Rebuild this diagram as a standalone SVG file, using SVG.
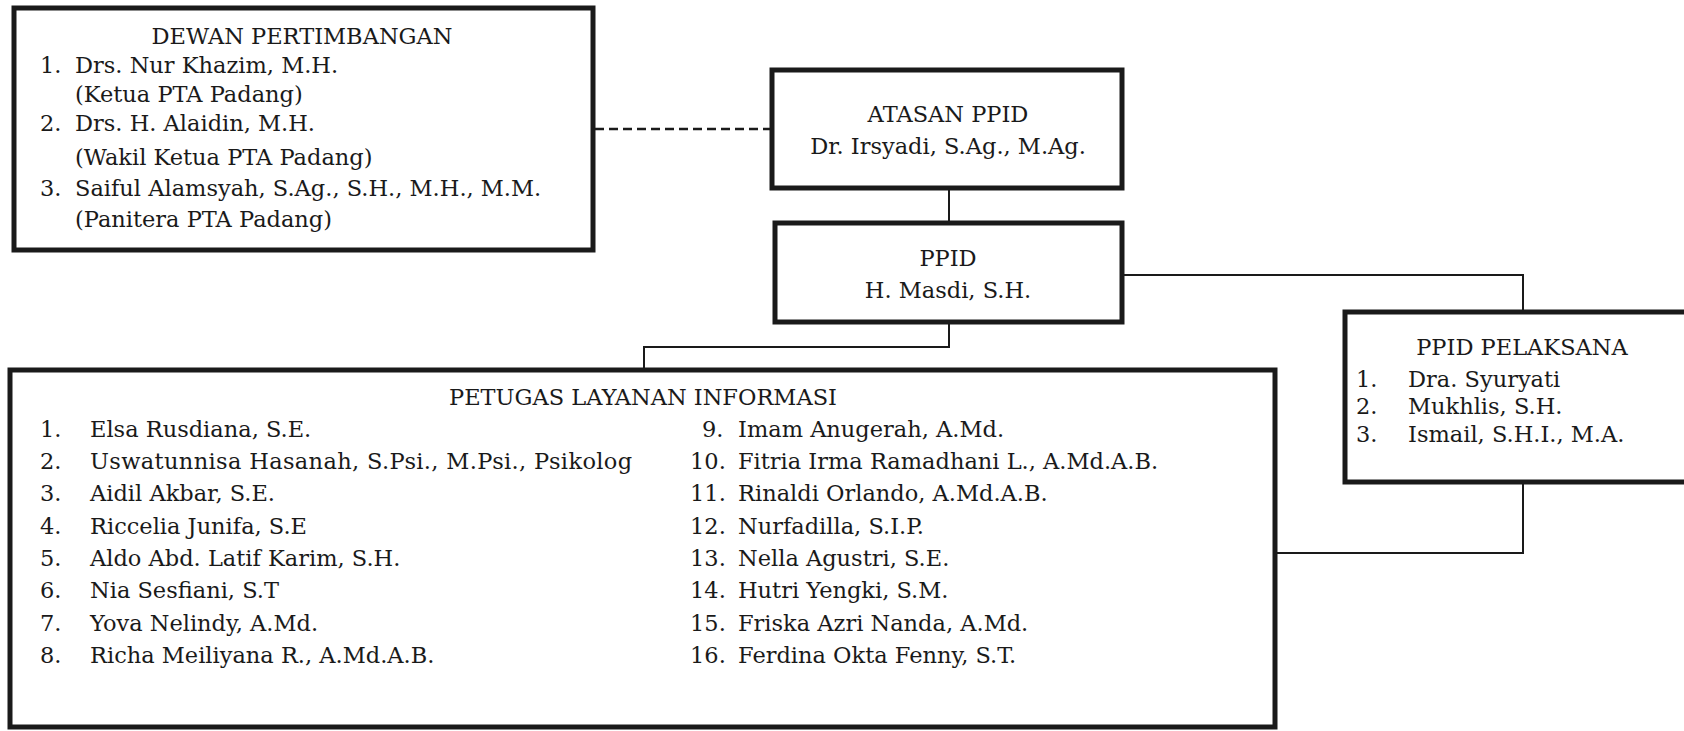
<svg xmlns="http://www.w3.org/2000/svg" width="1684" height="731" viewBox="0 0 1684 731">
<style>
.box{fill:#fff;stroke:#1a1a1a;stroke-width:5}
.ln{fill:none;stroke:#1a1a1a;stroke-width:2}
.dash{fill:none;stroke:#1a1a1a;stroke-width:2.5;stroke-dasharray:9,5}
text{font-family:"DejaVu Serif","Liberation Serif",serif;font-size:22.5px;fill:#1a1a1a}
.c{text-anchor:middle}
</style>
<rect width="1684" height="731" fill="#fff"/>
<g id="connectors">
<line class="dash" x1="595" y1="129" x2="772" y2="129"/>
<line class="ln" x1="949" y1="188" x2="949" y2="223"/>
<polyline class="ln" points="949,322 949,347 644,347 644,370"/>
<polyline class="ln" points="1122,275 1523,275 1523,312"/>
<polyline class="ln" points="1523,482 1523,553 1275,553"/>
</g>
<g id="dewan">
<rect class="box" x="14" y="8" width="579" height="242"/>
<text class="c" x="302" y="44">DEWAN PERTIMBANGAN</text>
<text x="40" y="73">1.</text><text x="75" y="73">Drs. Nur Khazim, M.H.</text>
<text x="75" y="102">(Ketua PTA Padang)</text>
<text x="40" y="131">2.</text><text x="75" y="131">Drs. H. Alaidin, M.H.</text>
<text x="75" y="165">(Wakil Ketua PTA Padang)</text>
<text x="40" y="196">3.</text><text x="75" y="196">Saiful Alamsyah, S.Ag., S.H., M.H., M.M.</text>
<text x="75" y="227">(Panitera PTA Padang)</text>
</g>
<g id="atasan">
<rect class="box" x="772" y="70" width="350" height="118"/>
<text class="c" x="948" y="122">ATASAN PPID</text>
<text class="c" x="948" y="154">Dr. Irsyadi, S.Ag., M.Ag.</text>
</g>
<g id="ppid">
<rect class="box" x="775" y="223" width="347" height="99"/>
<text class="c" x="948" y="266">PPID</text>
<text class="c" x="948" y="298">H. Masdi, S.H.</text>
</g>
<g id="pelaksana">
<rect class="box" x="1345" y="312" width="360" height="170"/>
<text class="c" x="1522" y="355">PPID PELAKSANA</text>
<text x="1356" y="387">1.</text><text x="1408" y="387">Dra. Syuryati</text>
<text x="1356" y="414">2.</text><text x="1408" y="414">Mukhlis, S.H.</text>
<text x="1356" y="442">3.</text><text x="1408" y="442">Ismail, S.H.I., M.A.</text>
</g>
<g id="petugas">
<rect class="box" x="10" y="370" width="1265" height="357"/>
<text class="c" x="643" y="405">PETUGAS LAYANAN INFORMASI</text>
<text x="40" y="437">1.</text><text x="90" y="437">Elsa Rusdiana, S.E.</text>
<text x="40" y="469">2.</text><text x="90" y="469" letter-spacing="0.35">Uswatunnisa Hasanah, S.Psi., M.Psi., Psikolog</text>
<text x="40" y="501">3.</text><text x="90" y="501">Aidil Akbar, S.E.</text>
<text x="40" y="534">4.</text><text x="90" y="534">Riccelia Junifa, S.E</text>
<text x="40" y="566">5.</text><text x="90" y="566">Aldo Abd. Latif Karim, S.H.</text>
<text x="40" y="598">6.</text><text x="90" y="598">Nia Sesfiani, S.T</text>
<text x="40" y="631">7.</text><text x="90" y="631">Yova Nelindy, A.Md.</text>
<text x="40" y="663">8.</text><text x="90" y="663">Richa Meiliyana R., A.Md.A.B.</text>
<text x="702" y="437">9.</text><text x="738" y="437">Imam Anugerah, A.Md.</text>
<text x="690" y="469">10.</text><text x="738" y="469">Fitria Irma Ramadhani L., A.Md.A.B.</text>
<text x="690" y="501">11.</text><text x="738" y="501">Rinaldi Orlando, A.Md.A.B.</text>
<text x="690" y="534">12.</text><text x="738" y="534">Nurfadilla, S.I.P.</text>
<text x="690" y="566">13.</text><text x="738" y="566">Nella Agustri, S.E.</text>
<text x="690" y="598">14.</text><text x="738" y="598">Hutri Yengki, S.M.</text>
<text x="690" y="631">15.</text><text x="738" y="631">Friska Azri Nanda, A.Md.</text>
<text x="690" y="663">16.</text><text x="738" y="663">Ferdina Okta Fenny, S.T.</text>
</g>
</svg>
